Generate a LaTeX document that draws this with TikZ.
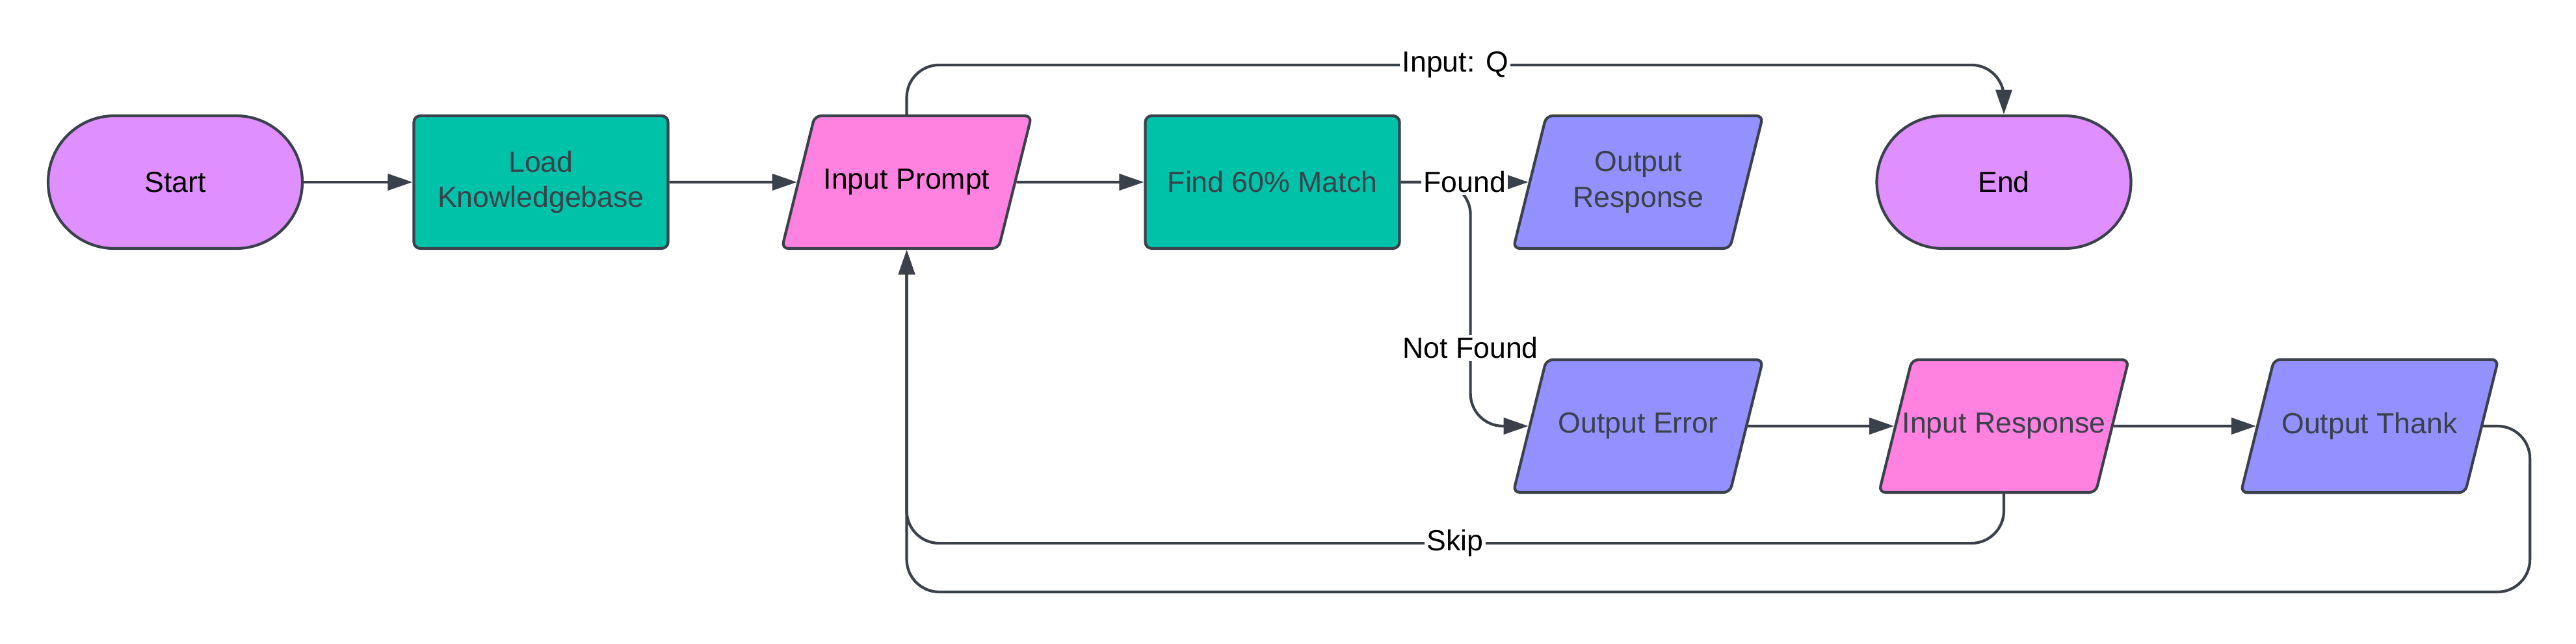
\documentclass[tikz,border=0pt]{standalone}
\usepackage{fontspec}
\setmainfont{Liberation Sans}
\usetikzlibrary{positioning}
\usetikzlibrary{shapes.geometric}
\usetikzlibrary{arrows.meta}

\definecolor{edge}{HTML}{3A414A}
\definecolor{termfill}{HTML}{E08FFF}
\definecolor{procfill}{HTML}{00C2A8}
\definecolor{infill}{HTML}{FF82E0}
\definecolor{outfill}{HTML}{9391FF}

\begin{document}
\begin{tikzpicture}
[line width=1.2pt, node distance=5.625cm, on grid,
 font=\fontsize{12.7}{15.6}\selectfont,
 base/.style={draw=edge, minimum height=20.4mm, align=center, text=edge},
 term/.style={base, fill=termfill, minimum width=39.1mm, rounded corners=10.2mm, text=black},
 proc/.style={base, fill=procfill, minimum width=39.1mm, rounded corners=1mm},
 io/.style={base, trapezium, trapezium left angle=76, trapezium right angle=104,
   trapezium stretches body=true, inner ysep=23.2pt, minimum width=38.4mm, rounded corners=1mm},
 inbox/.style={io, fill=infill},
 outbox/.style={io, fill=outfill},
 link/.style={draw=edge, -{Triangle[length=3.8mm,width=2.5mm]}, rounded corners=5mm},
 lbl/.style={fill=white, inner sep=1pt, text=black, rounded corners=0pt}]
\useasboundingbox (0,0) rectangle (39.62,9.90);

% top row
\node[term] (start) at (2.695,7.10) {Start};
\node[proc, right=of start] (load) {Load\\Knowledgebase};
\node[inbox, right=of load, text=black] (prompt) {Input Prompt};
\node[proc, right=of prompt] (match) {Find 60\% Match};
\node[outbox, right=of match, inner ysep=15.4pt] (outresp) {Output\\Response};
\node[term, right=of outresp] (finish) {End};

% bottom row
\node[outbox, below=3.75cm of outresp] (outerr) {Output Error};
\node[inbox, right=of outerr, inner xsep=-1.5mm] (inresp) {Input Response};
\node[outbox, right=of inresp] (outthx) {Output Thank};

\draw[link] (start) -- (load);
\draw[link] (load) -- (prompt);
\draw[link] (prompt) -- (match);
\draw[link] (match.east) -- ++(1.07,0) |- node[lbl,pos=0.34]{Not Found} (outerr);
\draw[link] (match) -- node[lbl]{Found} (outresp);
\draw[link] (prompt.north) -- ++(0,0.76) -| node[lbl,pos=0.25]{Input: Q} (finish);

\draw[link] (outerr) -- (inresp);
\draw[link] (inresp) -- (outthx);
\draw[link] (inresp.south) -- ++(0,-0.76) -| node[lbl,pos=0.25]{Skip} (prompt.south);
\draw[link] (outthx.east) -- ++(0.72,0) -- ++(0,-2.55) -| (prompt.south);
\end{tikzpicture}
\end{document}
